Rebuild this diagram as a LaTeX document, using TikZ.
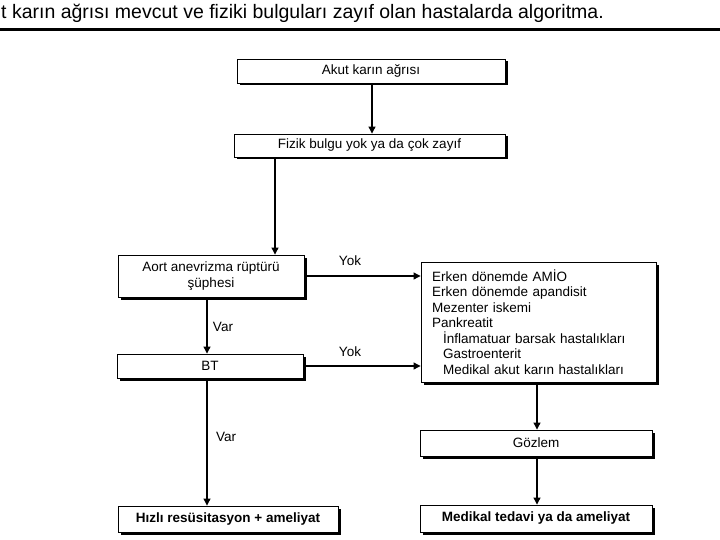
\documentclass[tikz,border=0pt]{standalone}
\usepackage{fontspec}
\setmainfont{Liberation Sans}
\usetikzlibrary{arrows.meta,shadows}
\tikzset{
  box/.style={draw=black, line width=0.9pt, fill=white, inner sep=0pt, align=center,
    font=\fontsize{13.5}{15.5}\selectfont,
    drop shadow={shadow xshift=2.5pt, shadow yshift=-2.5pt, fill=black, opacity=1}},
  arr/.style={line width=1.1pt, -{Triangle[length=7pt,width=7pt]}},
  lbl/.style={font=\fontsize{13.5}{15}\selectfont, inner sep=0pt}
}
\begin{document}
\begin{tikzpicture}[x=1pt,y=-1pt]
\useasboundingbox (0,0) rectangle (720,540);
% title
\node[anchor=base west, inner sep=0pt, font=\fontsize{19.5}{22}\selectfont] (title) at (1,19)
  {t karın ağrısı mevcut ve fiziki bulguları zayıf olan hastalarda algoritma.};
\coordinate (rl) at (0,30);
\coordinate (rr) at (720,30);
\draw[line width=3pt] (rl) -- (rr);
% boxes
\node[box, minimum width=268pt, minimum height=24pt] (b1) at (371,71) {Akut karın ağrısı};
\node[box, minimum width=271pt, minimum height=23pt] (b2) at (369.5,145.5) {Fizik bulgu yok ya da çok zayıf};
\node[box, minimum width=186pt, minimum height=42pt] (b3) at (211,276) {Aort anevrizma rüptürü\\şüphesi};
\node[box, minimum width=235pt, minimum height=120pt, text width=213pt, align=left] (b4) at (538.5,322)
  {Erken dönemde AMİO\\
   Erken dönemde apandisit\\
   Mezenter iskemi\\
   Pankreatit\\
   \hspace*{11pt}İnflamatuar barsak hastalıkları\\
   \hspace*{11pt}Gastroenterit\\
   \hspace*{11pt}Medikal akut karın hastalıkları};
\node[box, minimum width=186pt, minimum height=24pt] (b5) at (210,366) {BT};
\node[box, minimum width=220pt, minimum height=26pt, font=\fontsize{13.5}{15.5}\selectfont\bfseries] (b6) at (228,519) {Hızlı resüsitasyon + ameliyat};
\node[box, minimum width=232pt, minimum height=26pt] (b7) at (536,443) {Gözlem};
\node[box, minimum width=232pt, minimum height=27pt, font=\fontsize{13.5}{15.5}\selectfont\bfseries] (b8) at (536,518.5) {Medikal tedavi ya da ameliyat};
% helper columns
\coordinate (x1) at (372,0);
\coordinate (x2) at (275,0);
\coordinate (x3) at (207,0);
\coordinate (x4) at (537,0);
% connectors
\draw[arr] (b1.south -| x1) -- (b2.north -| x1);
\draw[arr] (b2.south -| x2) -- (b3.north -| x2);
\draw[arr] (b3.east) -- (b3.east -| b4.west);
\draw[arr] (b3.south -| x3) -- (b5.north -| x3);
\draw[arr] (b5.east) -- (b5.east -| b4.west);
\draw[arr] (b5.south -| x3) -- (b6.north -| x3);
\draw[arr] (b4.south -| x4) -- (b7.north -| x4);
\draw[arr] (b7.south -| x4) -- (b8.north -| x4);
% labels
\node[lbl] (l1) at (350,261) {Yok};
\node[lbl] (l2) at (350,352) {Yok};
\node[lbl] (l3) at (223,327) {Var};
\node[lbl] (l4) at (226,437) {Var};
\end{tikzpicture}
\end{document}
